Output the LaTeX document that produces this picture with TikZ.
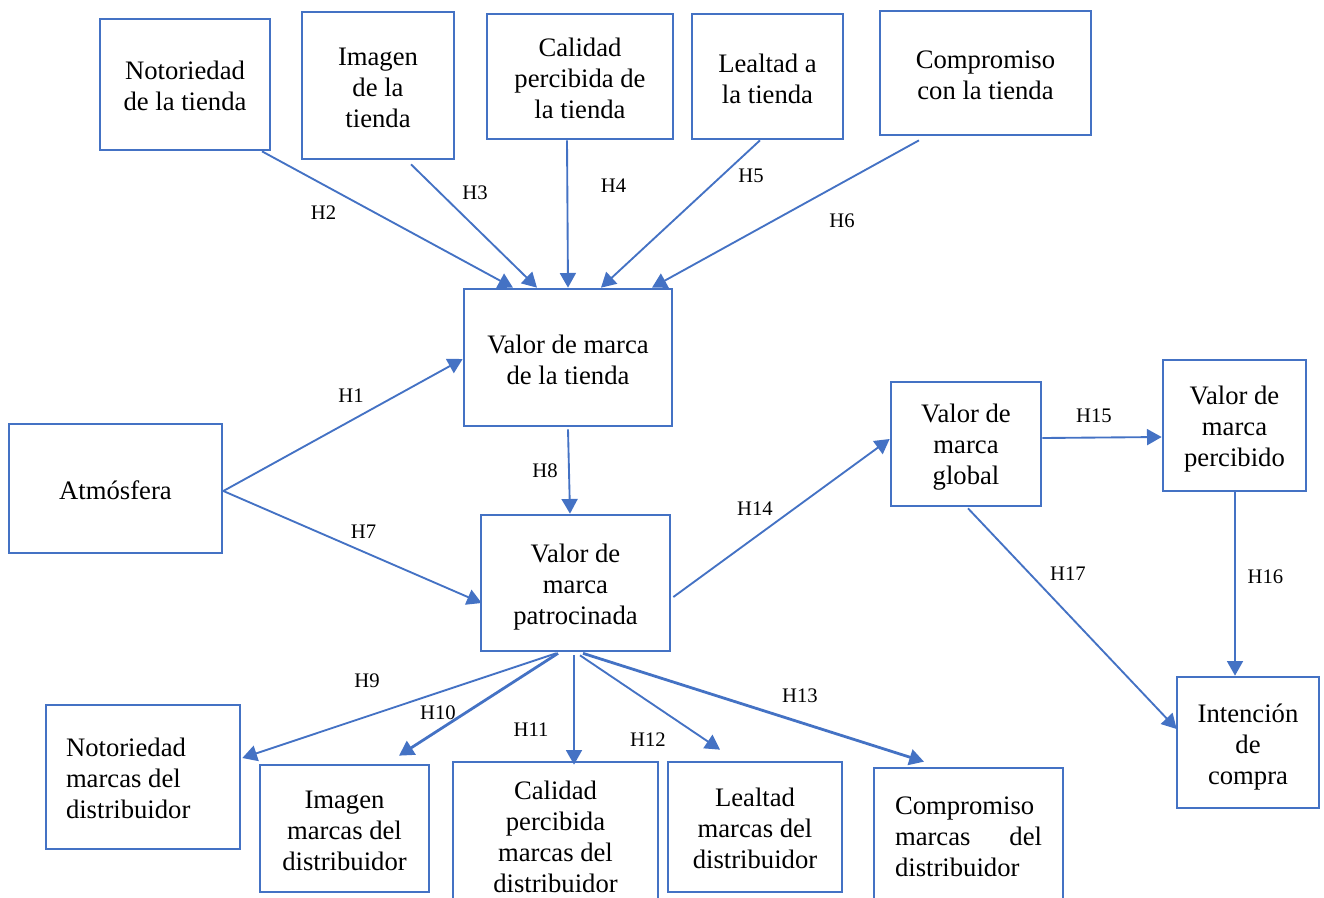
\documentclass[tikz,border=0pt]{standalone}
\usepackage{fontspec}
\setmainfont{Liberation Serif}
\usetikzlibrary{arrows.meta}
\definecolor{wordblue}{HTML}{4472C4}
\tikzset{
  box/.style 2 args={draw=wordblue, line width=2pt, rectangle,
    minimum width=#1*0.75pt, minimum height=#2*0.75pt, inner sep=0pt},
  txt/.style={align=center, inner sep=0pt,
    font=\fontsize{20}{23.25}\selectfont},
  link/.style={draw=wordblue, line width=1.4pt,
    -{Triangle[length=11pt,width=12pt]}},
  boldlink/.style={link, line width=2.1pt},
  hyp/.style={font=\fontsize{15.5}{18}\selectfont, inner sep=0pt},
}
\begin{document}
\begin{tikzpicture}[x=0.75pt,y=-0.75pt]
\useasboundingbox (0,0) rectangle (1324,897);
\clip (0,0) rectangle (1324,897);

% store dimensions
\node[box={170}{131}] (n1) at (185,84.5) {};
\node[box={152}{147}] (n2) at (378,85.5) {};
\node[box={186}{125}] (n3) at (580,76.5) {};
\node[box={151}{125}] (n4) at (767.5,76.5) {};
\node[box={211}{124}] (n5) at (985.5,73) {};
\node[txt] (n1t) at ([shift={(0,1)}]n1.center) {Notoriedad\\de la tienda};
\node[txt] (n2t) at ([shift={(0,2)}]n2.center) {Imagen\\de la\\tienda};
\node[txt] (n3t) at ([shift={(0,2)}]n3.center) {Calidad\\percibida de\\la tienda};
\node[txt] (n4t) at ([shift={(0,2)}]n4.center) {Lealtad a\\la tienda};
\node[txt] (n5t) at ([shift={(0,2)}]n5.center) {Compromiso\\con la tienda};

% central constructs
\node[box={208}{137}] (vt) at (568,357.5) {};
\node[box={213}{129}] (at) at (115.5,488.5) {};
\node[box={189}{136}] (vp) at (575.5,583) {};
\node[box={150}{124}] (vg) at (966,444) {};
\node[box={143}{131}] (vc) at (1234.5,425.5) {};
\node[box={142}{131}] (ic) at (1248,742.5) {};
\node[txt] (vtt) at ([shift={(0,2)}]vt.center) {Valor de marca\\de la tienda};
\node[txt] (att) at ([shift={(0,2)}]at.center) {Atmósfera};
\node[txt] (vpt) at ([shift={(0,4)}]vp.center) {Valor de\\marca\\patrocinada};
\node[txt] (vgt) at ([shift={(0,3)}]vg.center) {Valor de\\marca\\global};
\node[txt] (vct) at ([shift={(0,4)}]vc.center) {Valor de\\marca\\percibido};
\node[txt] (ict) at ([shift={(0,5)}]ic.center) {Intención\\de\\compra};

% distributor brand dimensions
\node[box={194}{144}] (m1) at (143,777) {};
\node[box={169}{127}] (m2) at (344.5,828.5) {};
\node[box={205}{143}] (m3) at (555.5,833.5) {};
\node[box={174}{130}] (m4) at (755,827) {};
\node[box={189}{134}] (m5) at (968.5,835) {};
\node[txt, text width=154*0.75pt, align=flush left] (m1t) at ([shift={(0,1)}]m1.center)
  {Notoriedad\\marcas del\\distribuidor};
\node[txt] (m2t) at ([shift={(0,2)}]m2.center) {Imagen\\marcas del\\distribuidor};
\node[txt] (m3t) at ([shift={(0,3)}]m3.center) {Calidad\\percibida\\marcas del\\distribuidor};
\node[txt] (m4t) at ([shift={(0,1)}]m4.center) {Lealtad\\marcas del\\distribuidor};
\node[txt, text width=147*0.75pt, align=flush left] (m5t) at ([shift={(0,2)}]m5.center)
  {Compromiso\\marcas \hfill del\\distribuidor};

% hypotheses
\draw[link] ([shift={(77,0)}]n1.south) -- ([shift={(-55,0)}]vt.north);
\draw[link] ([shift={(33,4)}]n2.south) -- ([shift={(-31,0)}]vt.north);
\draw[link] ([shift={(-13,0)}]n3.south) -- (vt.north);
\draw[link] ([shift={(-7.5,0)}]n4.south) -- ([shift={(33,0)}]vt.north);
\draw[link] ([shift={(-66.5,4)}]n5.south) -- ([shift={(84,0)}]vt.north);
\draw[link] ([shift={(0,2.5)}]at.east) -- ([shift={(0,1.5)}]vt.west);
\draw[link] ([shift={(0,2.5)}]at.east) -- ([shift={(2,20)}]vp.west);
\draw[link] ([shift={(0,2)}]vt.south) -- ([shift={(-5.5,0)}]vp.north);
\draw[link] ([shift={(2,14)}]vp.east) -- ([shift={(0,-5)}]vg.west);
\draw[link] ([shift={(0,-6)}]vg.east) -- ([shift={(0,11.5)}]vc.west);
\draw[link] ([shift={(0.5,0)}]vc.south) -- ([shift={(-13,0)}]ic.north);
\draw[link] ([shift={(2,1)}]vg.south) -- ([shift={(1,-13.5)}]ic.west);
\draw[link] ([shift={(-19.5,1)}]vp.south) -- ([shift={(1,-19)}]m1.east);
\draw[boldlink] ([shift={(-17.5,1)}]vp.south) -- ([shift={(54.5,-8)}]m2.north);
\draw[link] ([shift={(-1.5,3)}]vp.south) -- ([shift={(18.5,4)}]m3.north);
\draw[link] ([shift={(4.5,3)}]vp.south) -- ([shift={(-35,-11)}]m4.north);
\draw[boldlink] ([shift={(7.5,1)}]vp.south) -- ([shift={(-44.5,-5)}]m5.north);

% hypothesis labels
\node[hyp] (h1) at (351,395.5) {H1};
\node[hyp] (h2) at (323.5,213) {H2};
\node[hyp] (h3) at (475,192.5) {H3};
\node[hyp] (h4) at (613.5,186) {H4};
\node[hyp] (h5) at (751,176) {H5};
\node[hyp] (h6) at (842,221) {H6};
\node[hyp] (h7) at (363.6,532) {H7};
\node[hyp] (h8) at (545,471) {H8};
\node[hyp] (h9) at (367,681) {H9};
\node[hyp] (h10) at (438,712.5) {H10};
\node[hyp] (h11) at (531,730) {H11};
\node[hyp] (h12) at (648,740) {H12};
\node[hyp] (h13) at (800,696) {H13};
\node[hyp] (h14) at (755,509) {H14};
\node[hyp] (h15) at (1094,416) {H15};
\node[hyp] (h16) at (1265.5,576.7) {H16};
\node[hyp] (h17) at (1068,574) {H17};
\end{tikzpicture}
\end{document}
